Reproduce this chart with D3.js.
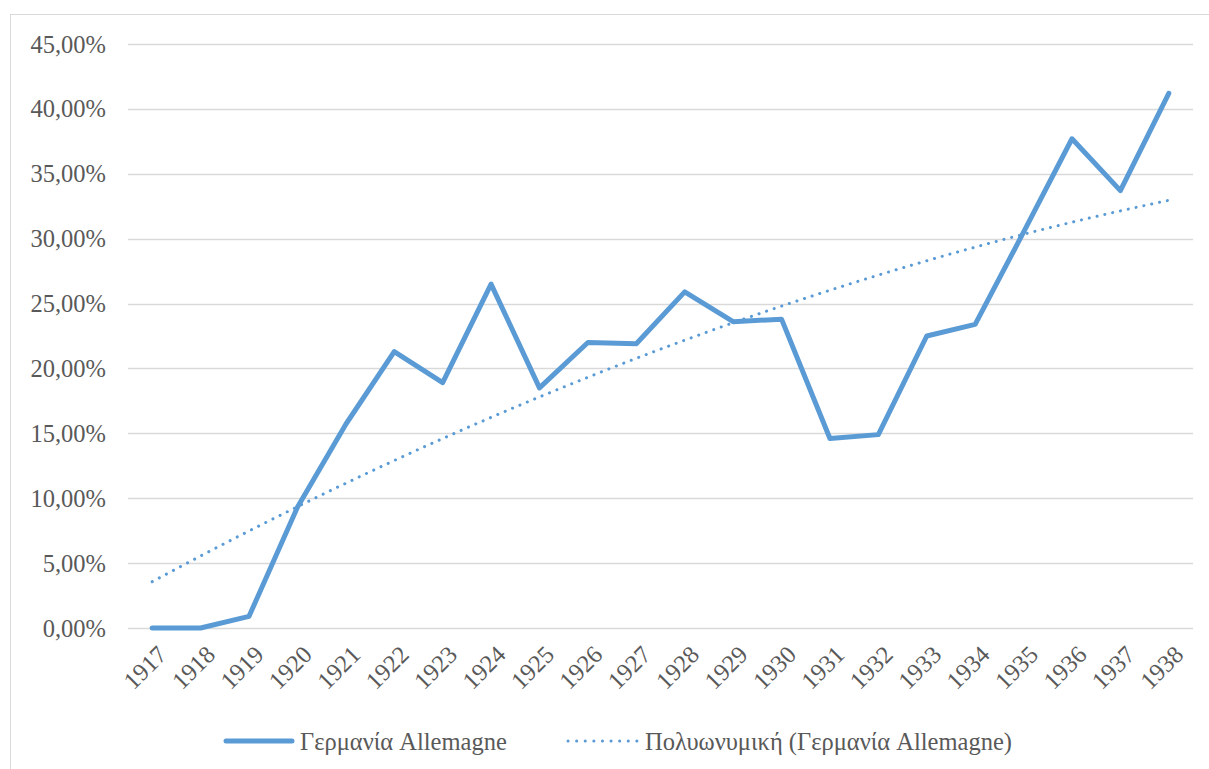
<!DOCTYPE html>
<html>
<head>
<meta charset="utf-8">
<script src="https://cdn.jsdelivr.net/npm/d3@7"></script>
<style>
  body { margin: 0; background: #fff; }
  text { font-family: "Liberation Serif", "DejaVu Serif", serif; fill: #595959; }
</style>
</head>
<body>
<script>
// data
var years = [1917, 1918, 1919, 1920, 1921, 1922, 1923, 1924, 1925, 1926, 1927,
             1928, 1929, 1930, 1931, 1932, 1933, 1934, 1935, 1936, 1937, 1938];
var germany = [0.0, 0.0, 0.9, 9.3, 15.7, 21.3, 18.9, 26.5, 18.5, 22.0, 21.9,
               25.9, 23.6, 23.8, 14.6, 14.9, 22.5, 23.4, 30.5, 37.7, 33.7, 41.2];
var yTicks = [0, 5, 10, 15, 20, 25, 30, 35, 40, 45];
var seriesName = "Γερμανία Allemagne";
var trendName = "Πολυωνυμική (Γερμανία Allemagne)";

var W = 1209, H = 769;
var margin = {top: 44, right: 16, bottom: 141, left: 128};
var fs = 24.5;

var svg = d3.select("body").append("svg")
    .attr("width", W).attr("height", H);

// chart border (cropped on the right and bottom)
svg.append("rect")
    .attr("x", 10.5).attr("y", 14.5)
    .attr("width", W + 20).attr("height", H + 20)
    .attr("fill", "none").attr("stroke", "#d9d9d9");

var x = d3.scaleBand().domain(years)
    .range([margin.left, W - margin.right]);
var y = d3.scaleLinear().domain([0, 45])
    .range([H - margin.bottom, margin.top]);
var cx = function(d) { return x(d) + x.bandwidth() / 2; };

// gridlines
svg.append("g").selectAll("line").data(yTicks).join("line")
    .attr("x1", margin.left).attr("x2", W - margin.right)
    .attr("y1", function(d) { return Math.round(y(d)) + 0.5; })
    .attr("y2", function(d) { return Math.round(y(d)) + 0.5; })
    .attr("stroke", "#d9d9d9").attr("stroke-width", 1.5);

// y axis labels
var fmt = function(d) { return d.toFixed(2).replace(".", ",") + "%"; };
svg.append("g").selectAll("text").data(yTicks).join("text")
    .attr("x", 106).attr("y", function(d) { return y(d); })
    .attr("dy", "0.35em").attr("text-anchor", "end")
    .attr("font-size", fs)
    .text(fmt);

// x axis labels
svg.append("g").selectAll("text").data(years).join("text")
    .attr("transform", function(d) {
      return "translate(" + (cx(d) + 10) + "," + (H - margin.bottom + 22) + ") rotate(-45)";
    })
    .attr("text-anchor", "end").attr("dy", "0.35em")
    .attr("font-size", fs)
    .text(function(d) { return d; });

// polynomial trend (order 2, least squares on the data)
var S = [0, 0, 0, 0, 0], T = [0, 0, 0];
germany.forEach(function(v, i) {
  var t = i + 1;
  for (var k = 0; k < 5; k++) S[k] += Math.pow(t, k);
  for (var k2 = 0; k2 < 3; k2++) T[k2] += v * Math.pow(t, k2);
});
function solve3(A, b) {
  var M = A.map(function(r, i) { return r.concat([b[i]]); });
  for (var i = 0; i < 3; i++) {
    for (var j = i + 1; j < 3; j++) {
      var f = M[j][i] / M[i][i];
      for (var k = i; k < 4; k++) M[j][k] -= f * M[i][k];
    }
  }
  var c = [0, 0, 0];
  for (var i2 = 2; i2 >= 0; i2--) {
    var s = M[i2][3];
    for (var k3 = i2 + 1; k3 < 3; k3++) s -= M[i2][k3] * c[k3];
    c[i2] = s / M[i2][i2];
  }
  return c;
}
var coef = solve3([[S[0], S[1], S[2]], [S[1], S[2], S[3]], [S[2], S[3], S[4]]], T);
var trend = years.map(function(yr, i) {
  var t = i + 1;
  return coef[0] + coef[1] * t + coef[2] * t * t;
});

var line = d3.line()
    .x(function(d) { return cx(d[0]); })
    .y(function(d) { return y(d[1]); });

svg.append("path")
    .datum(d3.zip(years, germany))
    .attr("d", line)
    .attr("fill", "none").attr("stroke", "#5b9bd5")
    .attr("stroke-width", 5).attr("stroke-linejoin", "round")
    .attr("stroke-linecap", "round");

svg.append("path")
    .datum(d3.zip(years, trend))
    .attr("d", d3.line().curve(d3.curveMonotoneX)
      .x(function(d) { return cx(d[0]); })
      .y(function(d) { return y(d[1]); }))
    .attr("fill", "none").attr("stroke", "#5b9bd5")
    .attr("stroke-width", 3).attr("stroke-linecap", "round")
    .attr("stroke-dasharray", "0.1 7.9");

// legend
var lg = svg.append("g").attr("transform", "translate(0,741)");
lg.append("line").attr("x1", 226).attr("x2", 292)
    .attr("stroke", "#5b9bd5").attr("stroke-width", 5).attr("stroke-linecap", "round");
lg.append("text").attr("x", 300).attr("dy", "0.35em").attr("font-size", fs).text(seriesName);
lg.append("line").attr("x1", 568).attr("x2", 637)
    .attr("stroke", "#5b9bd5").attr("stroke-width", 3).attr("stroke-linecap", "round")
    .attr("stroke-dasharray", "0.1 8.5");
lg.append("text").attr("x", 645).attr("dy", "0.35em").attr("font-size", fs).text(trendName);
</script>
</body>
</html>
